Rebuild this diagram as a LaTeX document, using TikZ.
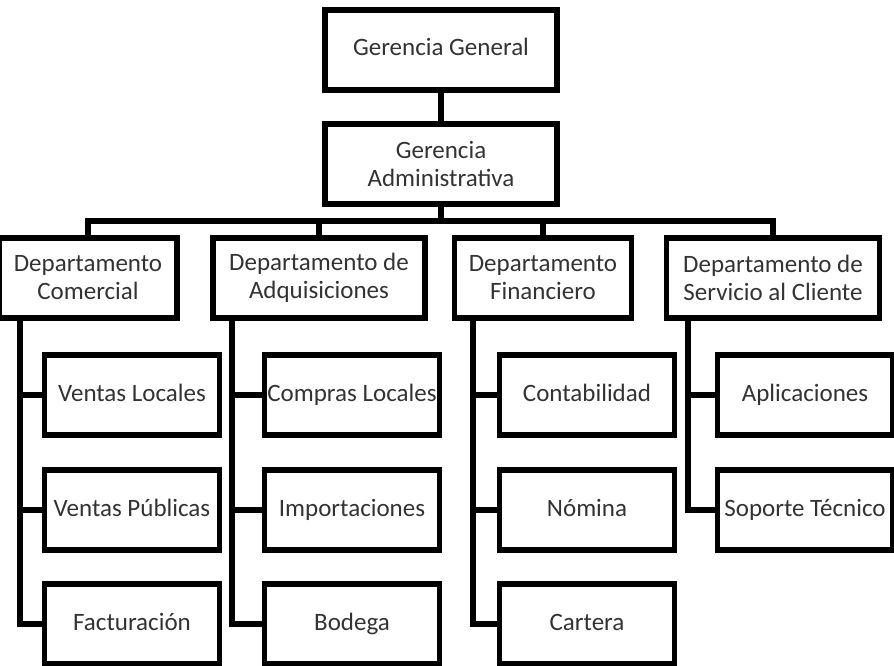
\documentclass[tikz,border=0pt]{standalone}
\usepackage{fontspec}
\setmainfont{Carlito}
\usetikzlibrary{positioning}

\begin{document}
\begin{tikzpicture}[
	  x=1pt, y=-1pt,
	  caja/.style = {shape=rectangle, draw, line width=5.5pt, align=center, text=black!80, inner sep=0pt, minimum height=80pt, font=\fontsize{25}{28}\selectfont},
	  simple/.style = {text height=17pt, text depth=5pt},
	  gerencia/.style = {caja, minimum width=232pt},
	  area/.style = {caja, simple, minimum width=175pt},
	  conector/.style = {draw, line width=5.5pt}
	]
	  \clip (0,0) rectangle (894,666);
	  \fill[white] (0,0) rectangle (894,666);

	  \node[gerencia, simple] (gg) at (441,50) {Gerencia General};
	  \node[gerencia] (ga) at (441,164) {Gerencia\\Administrativa};

	  \node[caja, minimum width=178pt] (dcom) at (88,278) {Departamento\\Comercial};
	  \node[caja, minimum width=212pt] (dadq) at (319,278) {Departamento de\\Adquisiciones};
	  \node[caja, minimum width=177pt] (dfin) at (543,278) {Departamento\\Financiero};
	  \node[caja, minimum width=213pt] (dser) at (773,278) {Departamento de\\Servicio al Cliente};

	  \node[area] (vloc) at (132,395) {Ventas Locales};
	  \node[area] (vpub) at (132,510) {Ventas Públicas};
	  \node[area] (fact) at (132,624) {Facturación};

	  \node[area] (cloc) at (352,395) {Compras Locales};
	  \node[area] (impo) at (352,510) {Importaciones};
	  \node[area] (bode) at (352,624) {Bodega};

	  \node[area] (cont) at (587,395) {Contabilidad};
	  \node[area] (nomi) at (587,510) {Nómina};
	  \node[area] (cart) at (587,624) {Cartera};

	  \node[area] (apli) at (805,395) {Aplicaciones};
	  \node[area] (sopo) at (805,510) {Soporte Técnico};

	  % lineas de mando
	  \coordinate (bus) at (441,221);
	  \draw[conector] (gg.south) -- (ga.north);
	  \draw[conector] (ga.south) -- (bus);
	  \draw[conector] (bus) -| (dcom.north);
	  \draw[conector] (bus) -| (dadq.north);
	  \draw[conector] (bus) -| (dfin.north);
	  \draw[conector] (bus) -| (dser.north);

	  \coordinate (s1) at (20,318);
	  \coordinate (s2) at (232,318);
	  \coordinate (s3) at (473,318);
	  \coordinate (s4) at (688,318);

	  \draw[conector] (s1) |- (fact.west);
	  \draw[conector] (s1 |- vloc.west) -- (vloc.west);
	  \draw[conector] (s1 |- vpub.west) -- (vpub.west);

	  \draw[conector] (s2) |- (bode.west);
	  \draw[conector] (s2 |- cloc.west) -- (cloc.west);
	  \draw[conector] (s2 |- impo.west) -- (impo.west);

	  \draw[conector] (s3) |- (cart.west);
	  \draw[conector] (s3 |- cont.west) -- (cont.west);
	  \draw[conector] (s3 |- nomi.west) -- (nomi.west);

	  \draw[conector] (s4) |- (sopo.west);
	  \draw[conector] (s4 |- apli.west) -- (apli.west);
	\end{tikzpicture}
\end{document}
